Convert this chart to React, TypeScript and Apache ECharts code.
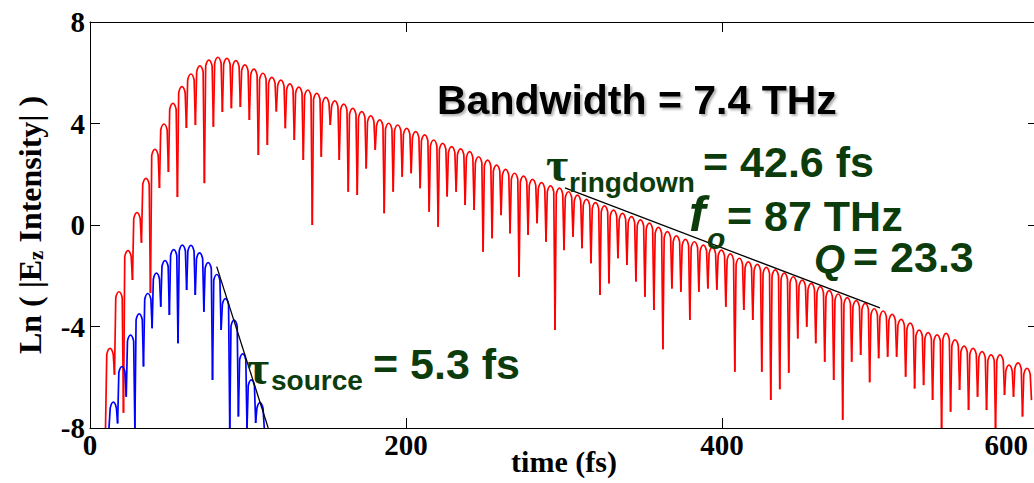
import React, { useEffect, useRef } from "react";
import * as echarts from "echarts";

// ---- data (ln |Ez| intensity) ----
// red: cavity field, one arch per half optical cycle
const redFirstPeakTime = 12.66; // fs
const redPeriod = 5.69; // fs between arches
const redPeaks = [
  -4.86, -2.63, -1.01, 0.49, 1.84, 2.98, 3.98, 4.79, 5.45, 5.95,
  6.27, 6.5, 6.61, 6.57, 6.48, 6.31, 6.14, 5.98, 5.82, 5.71,
  5.56, 5.43, 5.32, 5.19, 5.03, 4.89, 4.76, 4.6, 4.47, 4.3,
  4.14, 4.01, 3.94, 3.81, 3.68, 3.55, 3.35, 3.22, 3.09, 3.0,
  2.89, 2.69, 2.56, 2.36, 2.19, 2.04, 1.93, 1.8, 1.67, 1.54,
  1.45, 1.31, 1.18, 1.01, 0.88, 0.75, 0.59, 0.46, 0.33, 0.2,
  0.07, -0.09, -0.26, -0.43, -0.57, -0.66, -0.79, -0.88, -0.99, -1.14,
  -1.31, -1.45, -1.55, -1.67, -1.77, -1.9, -2.04, -2.17, -2.3, -2.43,
  -2.59, -2.72, -2.86, -2.98, -3.09, -3.3, -3.39, -3.52, -3.72, -3.87,
  -4.14, -4.24, -4.33, -4.27, -4.53, -4.77, -4.86, -4.99, -5.12, -5.12,
  -5.52, -5.43, -5.65,
];
// dips: first entry is the start level, then the dip after each arch
const redDips = [
  -9, -5.9, -7.4, -2.17, -0.7, -2.68, 1.46, 2.09, 1.1, 3.82,
  3.94, 1.65, 3.87, 4.45, 4.6, 4.65, 4.14, 2.76, 3.15, 4.47,
  3.81, 3.35, 2.56, 0.0, 2.69, 3.94, 2.56, 1.31, 1.18, 2.23,
  2.96, 0.46, 1.31, 1.9, 2.04, 1.45, 0.52, -0.07, 1.12, 1.31,
  0.79, 0.59, -1.05, -0.52, 0.39, -0.33, -2.04, -0.39, 0.07, -0.66,
  -4.14, -0.99, -0.46, -0.92, -1.51, -2.76, -2.3, -1.31, -1.58, -2.23,
  -2.83, -3.35, -4.9, -2.5, -2.63, -3.74, -2.63, -2.5, -2.55, -3.22,
  -5.78, -3.35, -3.74, -5.78, -6.9, -6.47, -5.82, -4.47, -4.01, -4.66,
  -5.39, -6.11, -7.68, -5.39, -5.12, -6.2, -5.25, -5.19, -5.19, -5.98,
  -6.44, -6.31, -6.9, -8.5, -7.36, -6.5, -7.29, -6.77, -7.29, -8.3,
  -6.7, -6.77, -7.55, -6.9,
];
// blue: source pulse
const blueFirstPeakTime = 14.75;
const bluePeriod = 5.46;
const bluePeaks = [
  -6.98, -5.58, -4.34, -3.5, -2.7, -1.9, -1.4, -0.97, -0.79, -0.8,
  -1.1, -1.48, -1.95, -2.9, -3.75, -5.08, -6.1, -7.0,
];
const blueDips = [
  -9, -7.82, -6.77, -8.5, -5.58, -4.07, -3.22, -3.55, -4.66, -2.56,
  -2.76, -3.42, -6.11, -4.14, -8.5, -7.55, -8.5, -7.8, -9,
];
// exponential-decay fits (straight lines on the log plot)
const ringdownFit = [
  [300.6, 1.46],
  [500, -3.27],
];
const sourceFit = [
  [80.2, -1.64],
  [112.8, -8.0],
];
const xTicks = { min: 0, max: 600, interval: 200 };
const yTicks = { min: -8, max: 8, interval: 4 };

const GREEN = "#0c3c0c";
const SANS = '"Liberation Sans", Arial, sans-serif';
const SERIF = '"Liberation Serif", "Times New Roman", serif';

function buildArches(first: number, period: number, peaks: number[], dips: number[]) {
  return peaks.map((p, k) => [first + k * period, p, dips[k], dips[k + 1]]);
}

function makeArchRenderer(period: number, color: string) {
  return (params: any, api: any) => {
    const t = api.value(0);
    const p = api.value(1);
    const dl = Math.max(api.value(2), -8);
    const dr = Math.max(api.value(3), -8);
    const c = api.coord([t, p]);
    const l = api.coord([t - period / 2, dl]);
    const r = api.coord([t + period / 2, dr]);
    const xc = c[0];
    const yp = c[1];
    const hw = (r[0] - l[0]) / 2;
    const a = 6;
    const eL = Math.min(yp + a, l[1]);
    const eR = Math.min(yp + a, r[1]);
    const d =
      `M${l[0]},${l[1]} L${xc - 0.72 * hw},${eL} ` +
      `Q${xc - 0.42 * hw},${yp} ${xc},${yp} ` +
      `Q${xc + 0.42 * hw},${yp} ${xc + 0.72 * hw},${eR} L${r[0]},${r[1]}`;
    return {
      type: "path",
      shape: { pathData: d },
      style: { fill: "none", stroke: color, lineWidth: 1.7 },
    };
  };
}

function txt(x: number, y: number, text: string, size: number, font: string, fill: string, extra: any = {}) {
  return {
    type: "text",
    x,
    y,
    silent: true,
    z: 100,
    style: {
      text,
      font: `${font.replace("SIZE", size + "px")}`,
      fill,
      lineHeight: Math.round(size * 0.8),
      align: "left",
      textAlign: "left",
      verticalAlign: "middle",
      textVerticalAlign: "middle",
      ...extra,
    },
  };
}

export default function App() {
  const ref = useRef<HTMLDivElement>(null);

  useEffect(() => {
    if (!ref.current) return;
    document.body.style.margin = "0";
    document.body.style.overflow = "hidden";
    const chart = echarts.init(ref.current, null, { renderer: "svg", width: 1034, height: 483 });

    const axisLine = { show: true, onZero: false, lineStyle: { color: "#000", width: 1 } };
    const axisTick = { show: true, inside: true, length: 10, lineStyle: { color: "#000", width: 1 } };
    const labelStyle = {
      color: "#000",
      fontFamily: SERIF,
      fontWeight: "bold",
      fontSize: 29,
    };

    const option: any = {
      animation: false,
      backgroundColor: "#fff",
      grid: {
        left: 90,
        right: -4,
        top: 22,
        bottom: 55,
        containLabel: false,
        outerBoundsMode: "none",
      },
      xAxis: [
        {
          type: "value",
          ...xTicks,
          position: "bottom",
          axisLine,
          axisTick,
          splitLine: { show: false },
          axisLabel: {
            ...labelStyle,
            margin: 2,
            alignMaxLabel: "right",
            formatter: (v: number) => (v === 600 ? "{r|600}" : String(v)),
            rich: { r: { ...labelStyle, padding: [0, 10, 0, 0] } },
          },
          name: "time (fs)",
          nameLocation: "middle",
          nameGap: 18,
          nameMoveOverlap: false,
          nameTextStyle: { ...labelStyle, fontSize: 30 },
        },
        {
          type: "value",
          ...xTicks,
          position: "top",
          axisLine,
          axisTick,
          axisLabel: { show: false },
          splitLine: { show: false },
        },
      ],
      yAxis: [
        {
          type: "value",
          ...yTicks,
          position: "left",
          axisLine,
          axisTick,
          splitLine: { show: false },
          axisLabel: { ...labelStyle, margin: 5 },
          name: "{a|Ln ( |E}{b|z}{a| Intensity| )}",
          nameLocation: "middle",
          nameRotate: 90,
          nameGap: 44,
          nameMoveOverlap: false,
          nameTextStyle: {
            rich: {
              a: { ...labelStyle, fontSize: 32, lineHeight: 38, verticalAlign: "bottom" },
              b: { ...labelStyle, fontSize: 21, lineHeight: 21, verticalAlign: "bottom" },
            },
          },
        },
        {
          type: "value",
          ...yTicks,
          position: "right",
          axisLine,
          axisTick,
          axisLabel: { show: false },
          splitLine: { show: false },
        },
      ],
      series: [
        {
          type: "custom",
          name: "cavity",
          xAxisIndex: 0,
          yAxisIndex: 0,
          clip: true,
          silent: true,
          z: 2,
          data: buildArches(redFirstPeakTime, redPeriod, redPeaks, redDips),
          renderItem: makeArchRenderer(redPeriod, "#ff0000"),
        },
        {
          type: "custom",
          name: "source",
          xAxisIndex: 0,
          yAxisIndex: 0,
          clip: true,
          silent: true,
          z: 3,
          data: buildArches(blueFirstPeakTime, bluePeriod, bluePeaks, blueDips),
          renderItem: makeArchRenderer(bluePeriod, "#0000ff"),
        },
        {
          type: "line",
          name: "ringdown fit",
          data: ringdownFit,
          symbol: "none",
          silent: true,
          z: 4,
          lineStyle: { color: "#000", width: 1.3 },
        },
        {
          type: "line",
          name: "source fit",
          data: sourceFit,
          symbol: "none",
          silent: true,
          z: 4,
          lineStyle: { color: "#000", width: 1.3 },
        },
      ],
      graphic: {
        elements: [
          txt(437, 100, "Bandwidth = 7.4 THz", 41, `bold SIZE ${SANS}`, "#000", {
            textShadowColor: "rgba(0,0,0,0.3)",
            textShadowOffsetX: 2,
            textShadowOffsetY: 2,
            textShadowBlur: 2,
          }),
          txt(546, 164, "τ", 48, `bold SIZE ${SERIF}`, GREEN),
          txt(569, 182, "ringdown", 28, `bold SIZE ${SANS}`, GREEN),
          txt(703, 162, "= 42.6 fs", 43, `bold SIZE ${SANS}`, GREEN),
          txt(689, 214, "f", 50, `italic bold SIZE ${SANS}`, GREEN),
          txt(707, 238, "o", 30, `italic bold SIZE ${SANS}`, GREEN),
          txt(727, 216, "= 87 THz", 43, `bold SIZE ${SANS}`, GREEN),
          txt(814, 259, "Q", 40, `italic bold SIZE ${SANS}`, GREEN),
          txt(853, 257, "= 23.3", 43, `bold SIZE ${SANS}`, GREEN),
          txt(247, 367, "τ", 48, `bold SIZE ${SERIF}`, GREEN),
          txt(271, 380, "source", 28, `bold SIZE ${SANS}`, GREEN),
          txt(373, 364, "= 5.3 fs", 43, `bold SIZE ${SANS}`, GREEN),
        ],
      },
    };

    chart.setOption(option);
    return () => chart.dispose();
  }, []);

  return (
    <div
      ref={ref}
      style={{ position: "fixed", left: 0, top: 0, width: 1034, height: 483 }}
    />
  );
}
